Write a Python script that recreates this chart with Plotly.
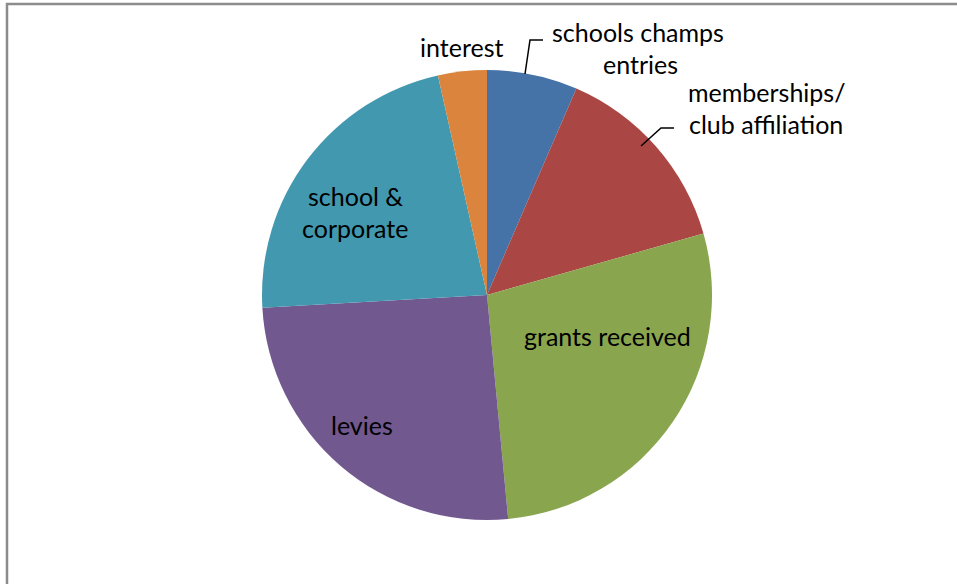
import plotly.graph_objects as go

categories = ["schools champs entries", "memberships/ club affiliation", "grants received",
              "levies", "school & corporate", "interest"]
values = [6.5, 14.1, 27.9, 25.6, 22.4, 3.5]
colors = ["#4572A7", "#AA4643", "#89A54E", "#71588F", "#4198AF", "#DB843D"]

W, H = 957, 584
FONT = "Lato"
FS = 25

def px(x):
    return x / W

def py(y):
    return 1 - y / H

fig = go.Figure(go.Pie(
    labels=categories,
    values=values,
    sort=False,
    direction="clockwise",
    rotation=0,
    marker=dict(colors=colors, line=dict(width=0)),
    textinfo="none",
    hoverinfo="label+percent",
    showlegend=False,
    domain=dict(x=[px(262), px(712)], y=[py(520), py(70)]),
))

labels_lines = [
    ("interest", 461, 47),
    ("schools champs", 638, 32),
    ("entries", 640, 64),
    ("memberships/", 766, 92),
    ("club affiliation", 766, 124),
    ("school &", 355, 196),
    ("corporate", 355, 228),
    ("grants received", 607, 336),
    ("levies", 362, 425),
]
annotations = [
    dict(text=t, x=px(x), y=py(y), xref="paper", yref="paper", showarrow=False,
         xanchor="center", yanchor="middle", font=dict(family=FONT, size=FS, color="#000000"))
    for t, x, y in labels_lines
]

leaders = [
    [(525, 74), (530, 40), (543, 40)],
    [(641, 146), (661, 128), (674, 128)],
]
shapes = []
for pts in leaders:
    path = "M " + " L ".join(f"{px(x)},{py(y)}" for x, y in pts)
    shapes.append(dict(type="path", path=path, xref="paper", yref="paper",
                       line=dict(color="#000000", width=1.5)))

shapes.append(dict(type="rect", xref="paper", yref="paper",
                   x0=px(7), x1=px(W + 40), y0=py(H + 40), y1=py(4),
                   line=dict(color="#8c8c8c", width=2.5), fillcolor="rgba(0,0,0,0)"))

fig.update_layout(
    width=W, height=H,
    margin=dict(l=0, r=0, t=0, b=0),
    paper_bgcolor="white",
    plot_bgcolor="white",
    annotations=annotations,
    shapes=shapes,
)

fig.write_html("out.html", config={"displayModeBar": False},
               post_script="document.body.style.margin='0px';")
